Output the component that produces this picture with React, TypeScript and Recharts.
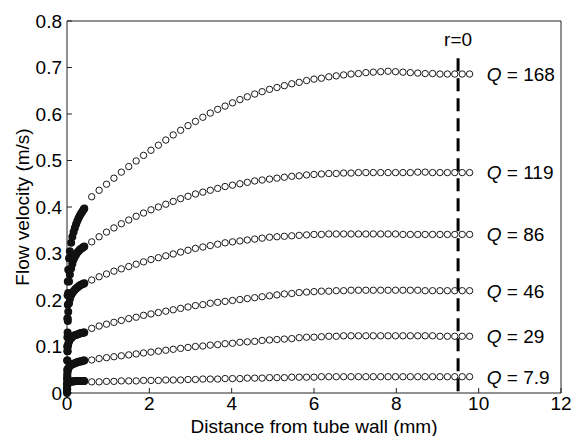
import { ScatterChart, Scatter, XAxis, YAxis, ReferenceLine, ReferenceDot } from 'recharts';

// distance from tube wall (mm) of the open-circle points
const distance = [
  0.6, 0.78, 0.96, 1.14, 1.32, 1.5, 1.68, 1.86, 2.04, 2.22,
  2.4, 2.58, 2.76, 2.94, 3.12, 3.3, 3.48, 3.66, 3.84, 4.02,
  4.2, 4.38, 4.56, 4.74, 4.92, 5.1, 5.28, 5.46, 5.64, 5.82,
  6.0, 6.18, 6.36, 6.54, 6.72, 6.9, 7.08, 7.26, 7.44, 7.62,
  7.8, 7.98, 8.16, 8.34, 8.52, 8.7, 8.88, 9.06, 9.24, 9.42,
  9.6, 9.78,
];

const q168 = [
  0.422, 0.436, 0.449, 0.462, 0.475, 0.487, 0.499, 0.511, 0.522, 0.533,
  0.544, 0.555, 0.565, 0.575, 0.584, 0.593, 0.602, 0.61, 0.617, 0.624,
  0.631, 0.637, 0.643, 0.648, 0.653, 0.657, 0.661, 0.665, 0.668, 0.672,
  0.675, 0.677, 0.68, 0.682, 0.684, 0.686, 0.687, 0.689, 0.69, 0.691,
  0.692, 0.691, 0.69, 0.689, 0.688, 0.687, 0.687, 0.686, 0.686, 0.686,
  0.686, 0.686,
];
const q119 = [
  0.325, 0.336, 0.346, 0.355, 0.364, 0.372, 0.38, 0.387, 0.394, 0.4,
  0.406, 0.412, 0.418, 0.423, 0.428, 0.432, 0.436, 0.44, 0.444, 0.447,
  0.45, 0.453, 0.456, 0.458, 0.46, 0.462, 0.464, 0.466, 0.467, 0.469,
  0.47, 0.471, 0.472, 0.472, 0.473, 0.473, 0.474, 0.474, 0.474, 0.474,
  0.474, 0.474, 0.474, 0.474, 0.475, 0.475, 0.474, 0.474, 0.474, 0.474,
  0.474, 0.474,
];
const q86 = [
  0.243, 0.25, 0.256, 0.262, 0.267, 0.272, 0.277, 0.282, 0.287, 0.291,
  0.295, 0.299, 0.303, 0.307, 0.311, 0.314, 0.317, 0.32, 0.323, 0.325,
  0.327, 0.329, 0.331, 0.333, 0.335, 0.336, 0.337, 0.338, 0.339, 0.34,
  0.341, 0.341, 0.342, 0.342, 0.342, 0.342, 0.342, 0.342, 0.342, 0.342,
  0.342, 0.342, 0.341, 0.341, 0.341, 0.341, 0.341, 0.341, 0.341, 0.341,
  0.341, 0.341,
];
const q46 = [
  0.139, 0.144, 0.148, 0.152, 0.156, 0.16, 0.163, 0.167, 0.17, 0.173,
  0.176, 0.179, 0.182, 0.185, 0.188, 0.19, 0.193, 0.195, 0.197, 0.199,
  0.201, 0.203, 0.205, 0.207, 0.209, 0.211, 0.213, 0.214, 0.216, 0.217,
  0.218, 0.219, 0.219, 0.22, 0.22, 0.221, 0.221, 0.221, 0.221, 0.221,
  0.221, 0.221, 0.221, 0.221, 0.221, 0.22, 0.22, 0.22, 0.22, 0.22,
  0.22, 0.22,
];
const q29 = [
  0.071, 0.074, 0.076, 0.078, 0.08, 0.082, 0.084, 0.086, 0.088, 0.09,
  0.092, 0.094, 0.096, 0.098, 0.1, 0.101, 0.103, 0.104, 0.106, 0.107,
  0.109, 0.11, 0.111, 0.113, 0.114, 0.115, 0.116, 0.117, 0.119, 0.12,
  0.12, 0.121, 0.122, 0.122, 0.123, 0.123, 0.123, 0.123, 0.123, 0.123,
  0.123, 0.123, 0.123, 0.123, 0.123, 0.123, 0.123, 0.122, 0.122, 0.122,
  0.122, 0.122,
];
const q79 = [
  0.024, 0.024, 0.025, 0.025, 0.026, 0.026, 0.026, 0.027, 0.027, 0.027,
  0.028, 0.028, 0.028, 0.029, 0.029, 0.03, 0.03, 0.03, 0.031, 0.031,
  0.031, 0.032, 0.032, 0.032, 0.033, 0.033, 0.033, 0.034, 0.034, 0.034,
  0.034, 0.035, 0.035, 0.035, 0.035, 0.035, 0.035, 0.035, 0.035, 0.035,
  0.035, 0.035, 0.035, 0.035, 0.035, 0.035, 0.035, 0.035, 0.035, 0.035,
  0.035, 0.035,
];

// dense near-wall measurements (drawn as the black bands)
const wallDistance = [0, 0.005, 0.01, 0.015, 0.02, 0.03, 0.05, 0.07, 0.1, 0.13, 0.16, 0.19, 0.22, 0.25, 0.28, 0.31, 0.34, 0.37, 0.4, 0.42];
const wall168 = [0.03, 0.1, 0.16, 0.21, 0.24, 0.265, 0.29, 0.305, 0.323, 0.336, 0.346, 0.355, 0.363, 0.37, 0.376, 0.381, 0.386, 0.39, 0.394, 0.397];
const wall119 = [0.02, 0.07, 0.12, 0.16, 0.19, 0.215, 0.24, 0.255, 0.268, 0.278, 0.287, 0.293, 0.298, 0.302, 0.305, 0.308, 0.31, 0.312, 0.314, 0.315];
const wall86 = [0.01, 0.05, 0.09, 0.13, 0.155, 0.175, 0.193, 0.202, 0.21, 0.215, 0.219, 0.222, 0.225, 0.227, 0.229, 0.231, 0.233, 0.234, 0.235, 0.236];
const wall46 = [0.01, 0.04, 0.07, 0.09, 0.1, 0.106, 0.111, 0.115, 0.118, 0.121, 0.123, 0.124, 0.125, 0.126, 0.127, 0.128, 0.129, 0.129, 0.13, 0.13];
const wall29 = [0.005, 0.02, 0.035, 0.045, 0.05, 0.053, 0.056, 0.058, 0.06, 0.062, 0.063, 0.064, 0.065, 0.066, 0.067, 0.068, 0.068, 0.069, 0.07, 0.07];
const wall79 = [0, 0.008, 0.016, 0.021, 0.023, 0.024, 0.025, 0.025, 0.025, 0.025, 0.025, 0.026, 0.026, 0.026, 0.026, 0.026, 0.026, 0.026, 0.026, 0.026];

const flowRates = ['168', '119', '86', '46', '29', '7.9'];
const profiles = [q168, q119, q86, q46, q29, q79];
const wallProfiles = [wall168, wall119, wall86, wall46, wall29, wall79];

const xTicks = [0, 2, 4, 6, 8, 10, 12];
const yTicks = [0, 0.1, 0.2, 0.3, 0.4, 0.5, 0.6, 0.7, 0.8];

const FONT = '"Liberation Sans", Arial, Helvetica, sans-serif';

const toPoints = (xs: number[], ys: number[]) => xs.map((x, i) => ({ x, y: ys[i] }));

const OpenCircle = (p: any) => (
  <circle cx={p.cx} cy={p.cy} r={3.2} fill="none" stroke="#1a1a1a" strokeWidth={1} />
);
const FilledCircle = (p: any) => <circle cx={p.cx} cy={p.cy} r={4} fill="#111" />;

const QLabel = ({ viewBox, q }: any) => (
  <text x={viewBox.x} y={viewBox.y + viewBox.height / 2} dy="0.36em" fontFamily={FONT} fontSize={19} fill="#000">
    <tspan fontStyle="italic">Q</tspan> = {q}
  </text>
);

const CenterLabel = ({ viewBox, text }: any) => (
  <text x={viewBox.x + viewBox.width / 2} y={viewBox.y + viewBox.height / 2} dy="0.36em" textAnchor="middle" fontFamily={FONT} fontSize={19} fill="#000">
    {text}
  </text>
);

const XTitle = () => (
  <text x={314} y={433} textAnchor="middle" fontFamily={FONT} fontSize={19} fill="#000">
    Distance from tube wall (mm)
  </text>
);
const YTitle = () => (
  <text x={22} y={207} transform="rotate(-90, 22, 207)" dy="0.36em" textAnchor="middle" fontFamily={FONT} fontSize={19} fill="#000">
    Flow velocity (m/s)
  </text>
);

const tickStyle = { fontSize: 19, fontFamily: FONT, fill: '#000' };

export default function App() {
  return (
    <div style={{ position: 'absolute', left: 0, top: 0, background: '#fff' }}>
      <ScatterChart width={574} height={436} margin={{ top: 20, right: 12, bottom: 0, left: 0 }}>
        <XAxis
          dataKey="x"
          type="number"
          domain={[0, 12]}
          ticks={xTicks}
          height={43}
          tickSize={-5}
          tickMargin={9}
          tick={tickStyle}
          stroke="#222"
          label={<XTitle />}
        />
        <XAxis xAxisId="top" orientation="top" type="number" domain={[0, 12]} ticks={xTicks} height={1} tickSize={-5} tick={false} stroke="#222" />
        <YAxis
          dataKey="y"
          type="number"
          domain={[0, 0.8]}
          ticks={yTicks}
          width={67}
          tickSize={-5}
          tickMargin={10}
          tick={tickStyle}
          stroke="#222"
          label={<YTitle />}
        />
        <YAxis yAxisId="right" orientation="right" type="number" domain={[0, 0.8]} ticks={yTicks} width={1} tickSize={-5} tick={false} stroke="#222" />

        {profiles.map((p, i) => (
          <Scatter key={'o' + i} data={toPoints(distance, p)} shape={OpenCircle} isAnimationActive={false} />
        ))}
        {wallProfiles.map((p, i) => (
          <Scatter key={'w' + i} data={toPoints(wallDistance, p)} shape={FilledCircle} isAnimationActive={false} />
        ))}

        <ReferenceLine
          segment={[{ x: 9.5, y: 0.72 }, { x: 9.5, y: 0 }]}
          stroke="#000"
          strokeWidth={3}
          strokeDasharray="13 7"
        />
        <ReferenceDot x={9.5} y={0.76} r={1} fill="none" stroke="none" label={<CenterLabel text="r=0" />} />
        {profiles.map((p, i) => (
          <ReferenceDot
            key={'q' + i}
            x={10.22}
            y={p[p.length - 1]}
            r={1}
            fill="none"
            stroke="none"
            label={<QLabel q={flowRates[i]} />}
          />
        ))}
      </ScatterChart>
    </div>
  );
}
